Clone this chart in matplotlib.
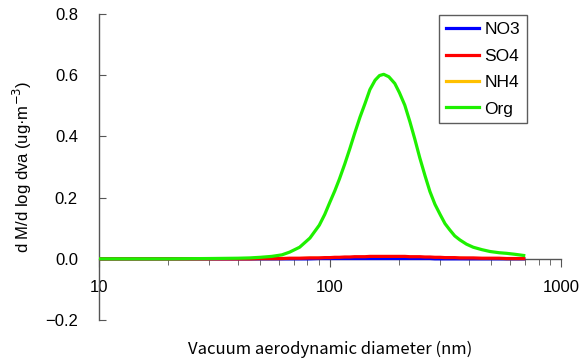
import numpy as np
import matplotlib
matplotlib.use("Agg")
import matplotlib.pyplot as plt
from matplotlib.ticker import LogLocator, NullFormatter, FixedLocator

# Données
dva = [10, 20, 30, 40, 45, 50, 56, 62, 67, 74, 82, 90, 95, 100, 105, 110, 116, 122,
       128, 135, 142, 149, 157, 164, 171, 180, 191, 200, 211, 222, 233, 245, 258,
       271, 285, 300, 315, 330, 347, 365, 390, 417, 455, 493, 540, 582, 630, 690]
org = [0.0, 0.0, 0.001, 0.002, 0.003, 0.005, 0.008, 0.013, 0.022, 0.038, 0.068,
       0.110, 0.145, 0.185, 0.222, 0.261, 0.310, 0.360, 0.410, 0.463, 0.508, 0.553,
       0.584, 0.599, 0.603, 0.595, 0.573, 0.543, 0.502, 0.448, 0.392, 0.330, 0.272,
       0.220, 0.178, 0.145, 0.115, 0.095, 0.075, 0.062, 0.048, 0.038, 0.030, 0.024,
       0.020, 0.018, 0.015, 0.011]
so4 = [0.0, 0.0, 0.0, 0.0, 0.0, 0.001, 0.001, 0.001, 0.002, 0.002, 0.003, 0.003,
       0.004, 0.004, 0.005, 0.005, 0.006, 0.006, 0.007, 0.007, 0.007, 0.008, 0.008,
       0.008, 0.008, 0.008, 0.008, 0.008, 0.008, 0.007, 0.007, 0.007, 0.006, 0.006,
       0.005, 0.005, 0.004, 0.004, 0.004, 0.003, 0.003, 0.003, 0.002, 0.002, 0.002,
       0.001, 0.001, 0.001]
no3 = [0.0, 0.0, 0.0, 0.0, 0.0, 0.0, 0.0, 0.0, 0.0, 0.0, 0.0, 0.001, 0.001, 0.001,
       0.001, 0.001, 0.001, 0.001, 0.001, 0.001, 0.001, 0.001, 0.001, 0.001, 0.001,
       0.001, 0.001, 0.001, 0.001, 0.001, 0.001, 0.001, 0.001, 0.001, 0.0, 0.0, 0.0,
       0.0, 0.0, 0.0, 0.0, 0.0, 0.0, 0.0, 0.0, 0.0, 0.0, 0.0]
nh4 = [0.0, 0.0, 0.0, 0.0, 0.0, 0.0, 0.0, 0.001, 0.001, 0.001, 0.002, 0.002, 0.002,
       0.003, 0.003, 0.003, 0.004, 0.004, 0.004, 0.004, 0.005, 0.005, 0.005, 0.005,
       0.005, 0.005, 0.005, 0.005, 0.005, 0.004, 0.004, 0.004, 0.004, 0.003, 0.003,
       0.003, 0.002, 0.002, 0.002, 0.002, 0.001, 0.001, 0.001, 0.001, 0.001, 0.0,
       0.0, 0.0]

yticks = [-0.2, 0.0, 0.2, 0.4, 0.6, 0.8]
ytick_labels = ["\u22120.2", "0.0", "0.2", "0.4", "0.6", "0.8"]

plt.rcParams['font.family'] = ['Liberation Sans', 'DejaVu Sans']

fig = plt.figure(figsize=(5.88, 3.6), dpi=100)
ax = fig.add_axes([0.168, 0.111, 0.786, 0.850])

lw = 2.3
ax.plot(dva, nh4, color="#FFC000", lw=lw, label="NH4", zorder=2)
ax.plot(dva, no3, color="#0000FF", lw=lw, label="NO3", zorder=3)
ax.plot(dva, so4, color="#FF0000", lw=lw, label="SO4", zorder=4)
ax.plot(dva, org, color="#1EF000", lw=lw, label="Org", zorder=5,
        solid_joinstyle="round")

ax.set_xscale("log")
ax.set_xlim(10, 1000)
ax.set_ylim(-0.2, 0.8)

ax.spines["top"].set_visible(False)
ax.spines["right"].set_visible(False)
ax.spines["bottom"].set_position(("data", 0))
for s in ["left", "bottom"]:
    ax.spines[s].set_color("#555555")
    ax.spines[s].set_linewidth(1.0)

ax.set_yticks(yticks)
ax.set_yticklabels(ytick_labels)
ax.tick_params(axis="y", direction="in", length=5, pad=15, labelsize=12, color="#555555")

ax.xaxis.set_major_locator(FixedLocator([10, 100, 1000]))
ax.set_xticklabels(["10", "100", "1000"])
ax.xaxis.set_minor_locator(LogLocator(base=10, subs=np.arange(2, 10)))
ax.xaxis.set_minor_formatter(NullFormatter())
ax.tick_params(axis="x", which="major", direction="out", length=6, pad=9, labelsize=12, color="#555555")
ax.tick_params(axis="x", which="minor", direction="out", length=4, color="#555555")

ax.set_xlabel("Vacuum aerodynamic diameter (nm)", fontsize=12,
              family=["Noto Sans CJK JP", "DejaVu Sans"], labelpad=33)
ax.set_ylabel("d M/d log dva (ug\u00b7m$^{-3}$)", fontsize=12, labelpad=8)

handles, labels = ax.get_legend_handles_labels()
order = [labels.index(n) for n in ["NO3", "SO4", "NH4", "Org"]]
leg = ax.legend([handles[i] for i in order], [labels[i] for i in order],
                loc="upper right", bbox_to_anchor=(0.896, 0.958), bbox_transform=fig.transFigure,
                borderaxespad=0, fontsize=12.5, frameon=True, fancybox=False,
                handlelength=1.9, handletextpad=0.3, borderpad=0.4, labelspacing=0.65)
leg.get_frame().set_edgecolor("#333333")
leg.get_frame().set_linewidth(1.0)

fig.savefig("out.png", dpi=100)
